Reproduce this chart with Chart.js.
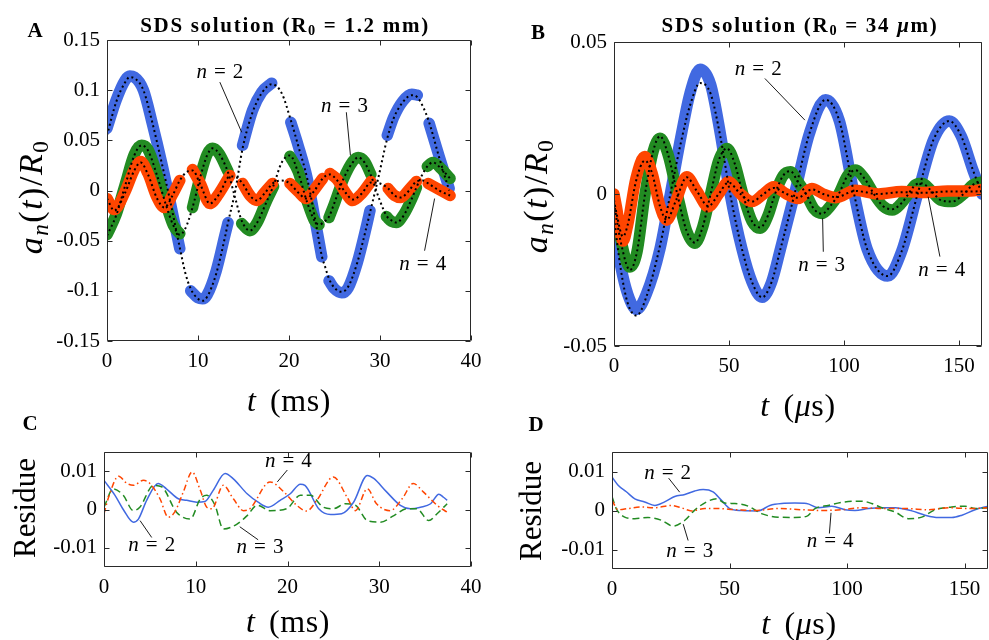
<!DOCTYPE html>
<html>
<head>
<meta charset="utf-8">
<script src="https://cdn.jsdelivr.net/npm/chart.js@4.4.1/dist/chart.umd.min.js"></script>
<style>
  html, body { margin: 0; padding: 0; background: #fff; }
  #page { position: relative; width: 989px; height: 640px; overflow: hidden;
          font-family: "Liberation Serif", "Times New Roman", serif; color: #000; }
  #page canvas { position: absolute; left: 0; top: 0; }
  .lbl { position: absolute; white-space: nowrap; line-height: 1; transform: translate(-50%, -50%); }
  .rot { transform: translate(-50%, -50%) rotate(-90deg); }
  .panel { font-weight: bold; font-size: 21px; }
  .title { font-weight: bold; font-size: 21px; letter-spacing: 1.7px; }
  .axt { font-size: 31px; }
  .tt { font-size: 32px; word-spacing: 5px; letter-spacing: 0.6px; }
  .yt { font-size: 34px; letter-spacing: 1.5px; }
  sub { font-size: 0.68em; vertical-align: -0.25em; line-height: 0; }
</style>
</head>
<body>
<div id="page">
  <canvas id="cA" width="989" height="640"></canvas>
  <canvas id="cB" width="989" height="640"></canvas>
  <canvas id="cC" width="989" height="640"></canvas>
  <canvas id="cD" width="989" height="640"></canvas>

  <div class="lbl panel" style="left:35px;top:30px">A</div>
  <div class="lbl panel" style="left:538px;top:32px">B</div>
  <div class="lbl panel" style="left:30px;top:423px">C</div>
  <div class="lbl panel" style="left:536px;top:424px">D</div>

  <div class="lbl title" style="left:285px;top:25px">SDS solution (R<sub>0</sub> = 1.2 mm)</div>
  <div class="lbl title" style="left:800px;top:25px">SDS solution (R<sub>0</sub> = 34 <i>μ</i>m)</div>

  <div class="lbl yt rot" style="left:31px;top:197px"><i>a</i><sub><i>n</i></sub>(<i>t</i>)/<i>R</i><sub>0</sub></div>
  <div class="lbl yt rot" style="left:536px;top:196px"><i>a</i><sub><i>n</i></sub>(<i>t</i>)/<i>R</i><sub>0</sub></div>
  <div class="lbl tt" style="left:289px;top:400px"><i>t</i> (ms)</div>
  <div class="lbl tt" style="left:798px;top:405px"><i>t</i> (<i>μ</i>s)</div>

  <div class="lbl axt rot" style="left:24px;top:508px">Residue</div>
  <div class="lbl axt rot" style="left:530px;top:511px">Residue</div>
  <div class="lbl tt" style="left:288px;top:621px"><i>t</i> (ms)</div>
  <div class="lbl tt" style="left:799px;top:623px"><i>t</i> (<i>μ</i>s)</div>
</div>

<script>
// ---- panel A: R0 = 1.2 mm, time in ms (null = no measurement) ----
const aT2 = [0,1,2,2.5,3,4,5,6,7,8, 8.6, 9.2,10,10.5,11,12,13,13.3, 14.1, 14.9,16,17,18.1, 19.2,
             20.2,21,22,23,23.6, 24, 24.4,25,25.8,26.5,27.5,28.5,28.9, 29.8, 30.8,31.5,32.5,33.5,34.1, 34.8, 35.4,36.5,37.6];
const aData2 = [0.062,0.090,0.110,0.114,0.113,0.100,0.066,0.028,-0.014,-0.058, null,
                -0.100,-0.107,-0.108,-0.104,-0.080,-0.043,-0.032, null,
                0.045,0.080,0.098,0.107, null,
                0.068,0.045,0.012,-0.036,-0.066, null,
                -0.090,-0.098,-0.102,-0.097,-0.072,-0.036,-0.020, null,
                0.055,0.073,0.089,0.096,0.095, null,
                0.067,0.034,0.002];
const aFit2 = [0.055,0.088,0.108,0.113,0.112,0.100,0.067,0.028,-0.013,-0.057, -0.082,
               -0.098,-0.108,-0.110,-0.106,-0.083,-0.045,-0.032, 0.000,
               0.042,0.078,0.097,0.106, 0.097,
               0.070,0.045,0.012,-0.035,-0.065, -0.077,
               -0.088,-0.097,-0.101,-0.096,-0.072,-0.037,-0.022, 0.012,
               0.052,0.072,0.088,0.095,0.093, 0.082,
               0.068,0.033,0.000];

const aT3 = [0,1,2,3,3.8,4.5,5.5,6.5,7.3,8, 8.6, 9.4,10.3,11,11.6,12.3,13.3, 14.1, 14.8,15.7,16.5,17.5,18.3, 19.2,
             20.1,21,22,22.8,23.3, 23.9, 24.4,25,26,27,27.6,28.3,29, 29.9, 30.7,31.3,31.8,32.6,33.5,34, 34.6, 35.2,35.8,36.7,37.7];
const aData3 = [-0.044,-0.024,0.006,0.036,0.045,0.041,0.016,-0.014,-0.035,-0.043, null,
                -0.017,0.016,0.036,0.042,0.037,0.019, null,
                -0.033,-0.040,-0.032,-0.011,0.004, null,
                0.034,0.019,-0.011,-0.030,-0.034, null,
                -0.027,-0.013,0.012,0.029,0.033,0.029,0.016, null,
                -0.026,-0.031,-0.032,-0.024,-0.008,0.003, null,
                0.024,0.028,0.022,0.012];
const aFit3 = [-0.045,-0.025,0.005,0.035,0.045,0.040,0.015,-0.015,-0.035,-0.044, -0.038,
               -0.017,0.015,0.035,0.042,0.037,0.018, -0.008,
               -0.030,-0.040,-0.032,-0.012,0.005, 0.028,
               0.035,0.018,-0.012,-0.030,-0.034, -0.031,
               -0.026,-0.012,0.012,0.028,0.033,0.028,0.015, -0.008,
               -0.025,-0.030,-0.032,-0.025,-0.008,0.003, 0.015,
               0.024,0.028,0.022,0.012];

const aT4 = [0,0.8,2,3,3.7,4.5,5.5,6.3,7.2,8, 8.7, 9.4,10.3,11.3,12.3,13.5, 14.2, 14.9,15.8,16.5,17.3,18.2, 19.2,
             20.1,21,21.9,22.8,23.7, 24.1, 24.5,25.3,26.2,27,28,29, 30, 30.9,31.6,32.3,33.2,34, 34.7, 35.3,36.5,37.7];
const aData4 = [-0.008,-0.019,-0.001,0.021,0.029,0.017,-0.007,-0.017,-0.004,0.010, null,
                0.021,0.006,-0.013,-0.003,0.015, null,
                0.007,-0.006,-0.010,-0.002,0.007, null,
                0.007,-0.001,-0.008,0.001,0.012, null,
                0.017,0.011,-0.002,-0.010,-0.003,0.009, null,
                0.002,-0.005,-0.007,0.001,0.009, null,
                0.007,0.001,-0.005];
const aFit4 = [-0.008,-0.020,-0.002,0.020,0.028,0.016,-0.008,-0.017,-0.005,0.010, 0.018,
               0.020,0.005,-0.013,-0.004,0.014, 0.013,
               0.007,-0.006,-0.010,-0.003,0.007, 0.010,
               0.007,-0.002,-0.008,0.000,0.012, 0.015,
               0.016,0.010,-0.002,-0.009,-0.003,0.008, 0.007,
               0.002,-0.005,-0.007,0.000,0.009, 0.010,
               0.007,0.000,-0.005];

// ---- panel B: R0 = 34 um, time in us ----
const bT2 = [0,3,6,9.8,14,20,24.5,29.4,33,37.4,42,46.2,50.5,55.6,60,64.4,68.5,72.4,78.5,85,92,98,104.4,110,119,125,132,139,145.8,151,156,160];
const bData2 = [-0.010,-0.024,-0.033,-0.038,-0.033,-0.018,0.000,0.020,0.033,0.041,0.036,0.020,0.000,-0.018,-0.029,-0.034,
                -0.029,-0.018,0.000,0.020,0.031,0.024,0.000,-0.018,-0.027,-0.019,0.000,0.018,0.024,0.019,0.008,0.000];
const bFit2 = [-0.008,-0.025,-0.036,-0.040,-0.034,-0.017,0.000,0.018,0.029,0.0365,0.033,0.019,0.000,-0.018,-0.029,-0.034,
               -0.029,-0.018,0.000,0.020,0.031,0.024,0.000,-0.018,-0.027,-0.019,0.000,0.018,0.024,0.019,0.008,0.000];

const bT3 = [0,3,6.9,10,13.5,17,20,23.5,27.5,31.5,35.2,38.5,42,45.5,49.1,52.5,56,60,63.6,67,70,73.5,76.7,80,83.5,
             87,90.5,94,97.7,101.5,105,109,113,117,121,125,128,131,134,138,142,147,152,156,160];
const bData3 = [-0.001,-0.015,-0.024,-0.019,0.000,0.014,0.0183,0.013,0.000,-0.012,-0.0162,-0.011,0.000,0.011,0.015,
                0.010,0.000,-0.009,-0.0113,-0.007,0.000,0.006,0.0073,0.004,0.000,-0.005,-0.0064,-0.004,0.000,0.006,
                0.0079,0.005,0.000,-0.004,-0.0053,-0.003,0.000,0.003,0.0035,0.001,-0.002,-0.0025,0.000,0.003,0.004];
const bFit3 = [-0.003,-0.016,-0.025,-0.019,0.000,0.014,0.019,0.013,0.000,-0.012,-0.016,-0.011,0.000,0.011,0.015,
               0.010,0.000,-0.009,-0.011,-0.007,0.000,0.006,0.0075,0.004,0.000,-0.005,-0.0065,-0.004,0.000,0.006,
               0.0078,0.005,0.000,-0.004,-0.005,-0.003,0.000,0.003,0.0035,0.001,-0.002,-0.0025,0.000,0.003,0.004];

const bT4 = [0,1,3.9,6,9.5,13.4,16.5,20,22.9,27,31.6,36,41,45.5,49.8,55,60,65,69.4,75,80,86,91,96.5,105,115,125,135,145,155,160];
const bData4 = [0.000,-0.004,-0.0155,-0.010,0.005,0.0123,0.007,-0.004,-0.0086,-0.002,0.0057,0.001,-0.0042,0.000,0.004,
                0.000,-0.0025,0.000,0.0024,0.000,-0.0015,0.0018,0.000,-0.0012,0.0012,0.000,0.0008,0.0005,0.001,0.001,0.0015];
const bFit4 = [-0.002,-0.006,-0.014,-0.010,0.004,0.011,0.007,-0.004,-0.0085,-0.002,0.0055,0.001,-0.004,0.000,0.0038,
               0.000,-0.0025,0.000,0.002,0.000,-0.0012,0.0015,0.000,-0.001,0.001,0.000,0.0006,0.0004,0.0008,0.0008,0.001];

// ---- panel C: residues for panel A ----
const cT2 = [0,1.2,2.1,3.2,3.75,4.65,5.9,6.8,8.1,9,10.1,11,11.9,13.2,14.1,15.6,16.8,17.9,19.2,20.3,21.4,21.9,23.4,24.7,25.9,
             27.2,28.7,29.4,30.8,32.3,33.4,34.5,35.6,36.5,37,37.4];
const cRes2 = [0.0076,0.0037,0.0,-0.0033,-0.0025,0.0024,0.0068,0.0054,0.0028,0.0024,0.0019,0.0021,0.005,0.0094,0.008,
               0.0041,0.0019,0.0006,0.0024,0.0041,0.0066,0.0063,0.0002,-0.0013,-0.0011,0.0019,0.0089,0.0081,0.0046,
               0.0011,0.0002,0.0006,0.0015,0.004,0.0032,0.0024];
const cT3 = [0,1,2.1,3.2,3.9,5.4,6.3,7.9,9.4,10.5,11.2,12.1,13,14.5,15.6,16.7,18.1,19.9,21.4,22.5,23.9,25,26.3,27.4,
             28.7,30.1,31.6,33,34.1,35.4,36.3,37.4];
const cRes3 = [0.0006,0.0054,0.0037,-0.0003,0.0006,0.0063,0.0059,-0.0007,-0.0025,0.0028,0.0037,0.0011,-0.0051,-0.0038,
               -0.0016,0.0011,-0.0003,0.0002,0.0037,0.0037,0.0006,0.0002,0.0015,0.0011,-0.0029,-0.0033,-0.0016,0.0002,
               0.0002,-0.0029,-0.0011,0.0015];
const cT4 = [0,0.5,1.6,2.5,3.2,4.3,5,6.1,7,7.7,8.65,9.6,10.5,11.2,11.75,13,14.1,15.2,15.9,18.1,19.6,21,22.1,23.2,25,
             26.5,27.4,28.7,29.7,31.2,32.5,33.7,34.8,36.3,37.4];
const cRes4 = [-0.0011,0.0032,0.0087,0.0068,0.0063,0.0076,0.0068,0.0028,-0.002,-0.0007,0.0046,0.0098,0.005,0.0006,0.0002,
               0.0063,0.0028,-0.0003,0.0002,0.0072,0.0046,0.0011,-0.0004,0.0024,0.0085,0.0032,-0.0003,0.0054,0.0015,
               -0.0003,0.0028,0.0068,0.0046,0.0011,-0.0007];

// ---- panel D: residues for panel B ----
const dT2 = [0,2.6,6.1,9.7,13.9,18.2,22.4,26.7,31,35.2,38.8,43,46.6,50.1,55.1,62.2,67.2,72.2,77.8,82.8,87.8,93.5,99.1,
             103.4,109.1,114.8,120.5,127.6,133.2,138.9,144.6,148.9,154.5,160];
const dRes2 = [0.0086,0.0065,0.0048,0.003,0.0022,0.0013,0.0022,0.0036,0.0041,0.005,0.0054,0.0048,0.0026,0.0005,0.0,
               -0.0001,0.0013,0.0018,0.0019,0.0018,0.0007,0.0011,0.0002,0.0,0.0005,0.0007,0.0007,-0.0001,-0.0012,
               -0.0018,-0.0018,-0.0012,0.0002,0.0011];
const dT3 = [0,1.8,5.4,9.7,15.3,21,26,31,35.2,40.2,44.5,48,52.3,58,63.6,70.7,77.8,82.8,86.4,92,99.1,106.3,110.5,114.8,
             120.5,126.1,131.8,137.5,144.6,150.3,154.5,160];
const dRes3 = [0.0036,0.0005,-0.0017,-0.0021,-0.0018,-0.0025,-0.004,-0.0025,0.0001,0.0022,0.003,0.0019,0.0018,0.0011,
               -0.0008,-0.0017,-0.0018,-0.0015,0.0005,0.0013,0.0022,0.0024,0.0018,0.0007,-0.0004,-0.0021,-0.0017,0.0002,
               0.0009,0.0011,0.0005,0.0007];
const dT4 = [0,2.6,6.8,12.5,18.2,25.3,29.5,33.8,39.5,45.2,52.3,60.8,70.7,80.7,89.2,97.7,106.3,114.8,124.7,134.7,143.2,151.7,160];
const dRes4 = [0.0026,0.0002,0.0005,0.0009,0.0007,0.0013,0.0007,-0.0001,0.0005,0.0005,0.0002,0.0,0.0005,0.0002,0.0,
               0.0002,0.0007,0.0005,0.0005,0.0002,0.0007,0.0005,0.0007];

// ---- tick values ----
const aXTicks = [0, 10, 20, 30, 40];
const aYTicks = [-0.15, -0.1, -0.05, 0, 0.05, 0.1, 0.15];
const bXTicks = [0, 50, 100, 150];
const bYTicks = [-0.05, 0, 0.05];
const resYTicks = [-0.01, 0, 0.01];

const BLUE = '#4169E1', GREEN = '#228B22', ORANGE = '#FF4500';
const FONT = '"Liberation Serif", "Times New Roman", serif';
const Y_W = 64, X_H = 46;

const pts = (ts, vs) => ts.map((t, i) => ({ x: t, y: vs[i] }));

// measured modes: thick bands; lower order is painted on top
function band(ts, vs, color, order) {
  return { data: pts(ts, vs), borderColor: color, borderWidth: 11.5, borderCapStyle: 'round',
           borderJoinStyle: 'round', pointRadius: 0, spanGaps: false,
           cubicInterpolationMode: 'monotone', order };
}
// SDS solution: black dotted curve
function dotted(ts, vs) {
  return { data: pts(ts, vs), borderColor: '#000', borderWidth: 2, borderDash: [2, 3],
           pointRadius: 0, cubicInterpolationMode: 'monotone', order: 0 };
}
function trace(ts, vs, color, dash, order) {
  return { data: pts(ts, vs), borderColor: color, borderWidth: 1.5, borderDash: dash,
           pointRadius: 0, cubicInterpolationMode: 'monotone', order };
}

// box around the plot with inward ticks on all four sides
const framePlugin = {
  id: 'frame',
  afterDatasetsDraw(chart) {
    const { ctx, chartArea: a, scales: { x, y } } = chart;
    const L = Math.round(a.left) + 0.5, R = Math.round(a.right) - 0.5;
    const T = Math.round(a.top) + 0.5, B = Math.round(a.bottom) - 0.5;
    ctx.save();
    ctx.strokeStyle = '#2a2a2a';
    ctx.lineWidth = 1;
    ctx.beginPath();
    ctx.rect(L, T, R - L, B - T);
    x.ticks.forEach(t => {
      const p = Math.round(x.getPixelForValue(t.value)) + 0.5;
      ctx.moveTo(p, B); ctx.lineTo(p, B - 5);
      ctx.moveTo(p, T); ctx.lineTo(p, T + 5);
    });
    y.ticks.forEach(t => {
      const p = Math.round(y.getPixelForValue(t.value)) + 0.5;
      ctx.moveTo(L, p); ctx.lineTo(L + 5, p);
      ctx.moveTo(R, p); ctx.lineTo(R - 5, p);
    });
    ctx.stroke();
    ctx.restore();
  }
};

// "n = k" labels with leader lines, placed in data coordinates
function notesPlugin(notes) {
  return {
    id: 'notes',
    afterDraw(chart) {
      const { ctx, scales: { x, y } } = chart;
      ctx.save();
      ctx.strokeStyle = '#000';
      ctx.lineWidth = 0.9;
      ctx.fillStyle = '#000';
      ctx.textBaseline = 'middle';
      ctx.textAlign = 'left';
      notes.forEach(n => {
        ctx.beginPath();
        ctx.moveTo(x.getPixelForValue(n.from[0]), y.getPixelForValue(n.from[1]));
        ctx.lineTo(x.getPixelForValue(n.to[0]), y.getPixelForValue(n.to[1]));
        ctx.stroke();
        const cx = x.getPixelForValue(n.at[0]), cy = y.getPixelForValue(n.at[1]);
        ctx.font = 'italic 21px ' + FONT;
        const wn = ctx.measureText('n').width;
        ctx.font = '21px ' + FONT;
        const we = ctx.measureText('=').width, wk = ctx.measureText(String(n.k)).width;
        const gap = 7;
        let px = cx - (wn + we + wk + 2 * gap) / 2;
        ctx.font = 'italic 21px ' + FONT;
        ctx.fillText('n', px, cy);
        px += wn + gap;
        ctx.font = '21px ' + FONT;
        ctx.fillText('=', px, cy);
        px += we + gap;
        ctx.fillText(String(n.k), px, cy);
      });
      ctx.restore();
    }
  };
}

function makePanel(id, area, xr, yr, datasets, notes) {
  return new Chart(document.getElementById(id), {
    type: 'line',
    data: { datasets },
    options: {
      responsive: false,
      animation: false,
      events: [],
      layout: { padding: { left: area.left - Y_W, top: area.top, right: 989 - area.right,
                           bottom: 640 - area.bottom - X_H } },
      plugins: { legend: { display: false }, tooltip: { enabled: false } },
      scales: {
        x: {
          type: 'linear', min: xr.min, max: xr.max,
          afterBuildTicks: s => { s.ticks = xr.ticks.map(v => ({ value: v })); },
          afterFit: s => { s.height = X_H; },
          grid: { display: false, drawTicks: false }, border: { display: false },
          ticks: { autoSkip: false, maxRotation: 0, padding: 8, color: '#000',
                   font: { family: FONT, size: 21 }, callback: v => String(v) }
        },
        y: {
          type: 'linear', min: yr.min, max: yr.max,
          afterBuildTicks: s => { s.ticks = yr.ticks.map(v => ({ value: v })); },
          afterFit: s => { s.width = Y_W; },
          grid: { display: false, drawTicks: false }, border: { display: false },
          ticks: { autoSkip: false, padding: 7, color: '#000',
                   font: { family: FONT, size: 21 }, callback: v => String(v) }
        }
      }
    },
    plugins: [framePlugin, notesPlugin(notes)]
  });
}

makePanel('cA', { left: 107, right: 471, top: 40, bottom: 341 },
  { min: 0, max: 40, ticks: aXTicks }, { min: -0.15, max: 0.15, ticks: aYTicks },
  [
    dotted(aT4, aFit4), dotted(aT3, aFit3), dotted(aT2, aFit2),
    band(aT4, aData4, ORANGE, 1), band(aT3, aData3, GREEN, 2), band(aT2, aData2, BLUE, 3)
  ],
  [
    { k: 2, at: [12.4, 0.118], from: [12.4, 0.108], to: [14.8, 0.058] },
    { k: 3, at: [26.1, 0.084], from: [26.3, 0.078], to: [26.75, 0.035] },
    { k: 4, at: [34.7, -0.074], from: [34.9, -0.06], to: [36.0, -0.008] }
  ]);

makePanel('cB', { left: 614, right: 982, top: 42, bottom: 346 },
  { min: 0, max: 160, ticks: bXTicks }, { min: -0.05, max: 0.05, ticks: bYTicks },
  [
    dotted(bT4, bFit4), dotted(bT3, bFit3), dotted(bT2, bFit2),
    band(bT4, bData4, ORANGE, 1), band(bT3, bData3, GREEN, 2), band(bT2, bData2, BLUE, 3)
  ],
  [
    { k: 2, at: [62.7, 0.0408], from: [65.6, 0.038], to: [83, 0.0243] },
    { k: 3, at: [90.3, -0.0234], from: [90.7, -0.008], to: [91, -0.019] },
    { k: 4, at: [142.5, -0.025], from: [136.6, -0.0009], to: [141.7, -0.0206] }
  ]);

makePanel('cC', { left: 104, right: 471, top: 452, bottom: 567 },
  { min: 0, max: 40, ticks: aXTicks }, { min: -0.015, max: 0.015, ticks: resYTicks },
  [
    trace(cT4, cRes4, ORANGE, [6, 3, 1.5, 3], 1),
    trace(cT3, cRes3, GREEN, [7, 4], 2),
    trace(cT2, cRes2, BLUE, [], 3)
  ],
  [
    { k: 4, at: [20.1, 0.0124], from: [19.98, 0.0103], to: [18.89, 0.0072] },
    { k: 2, at: [5.2, -0.0095], from: [5.2, -0.0073], to: [3.93, -0.0029] },
    { k: 3, at: [17.0, -0.010], from: [16.8, -0.0079], to: [14.8, -0.0045] }
  ]);

makePanel('cD', { left: 612, right: 988, top: 452, bottom: 569 },
  { min: 0, max: 160, ticks: bXTicks }, { min: -0.015, max: 0.015, ticks: resYTicks },
  [
    trace(dT4, dRes4, ORANGE, [6, 3, 1.5, 3], 1),
    trace(dT3, dRes3, GREEN, [7, 4], 2),
    trace(dT2, dRes2, BLUE, [], 3)
  ],
  [
    { k: 2, at: [23.7, 0.0096], from: [24.1, 0.0083], to: [28.8, 0.0047] },
    { k: 3, at: [33.1, -0.0104], from: [32.4, -0.0077], to: [30.3, -0.0035] },
    { k: 4, at: [92.8, -0.008], from: [92.5, -0.0059], to: [93.2, -0.0006] }
  ]);
</script>
</body>
</html>
